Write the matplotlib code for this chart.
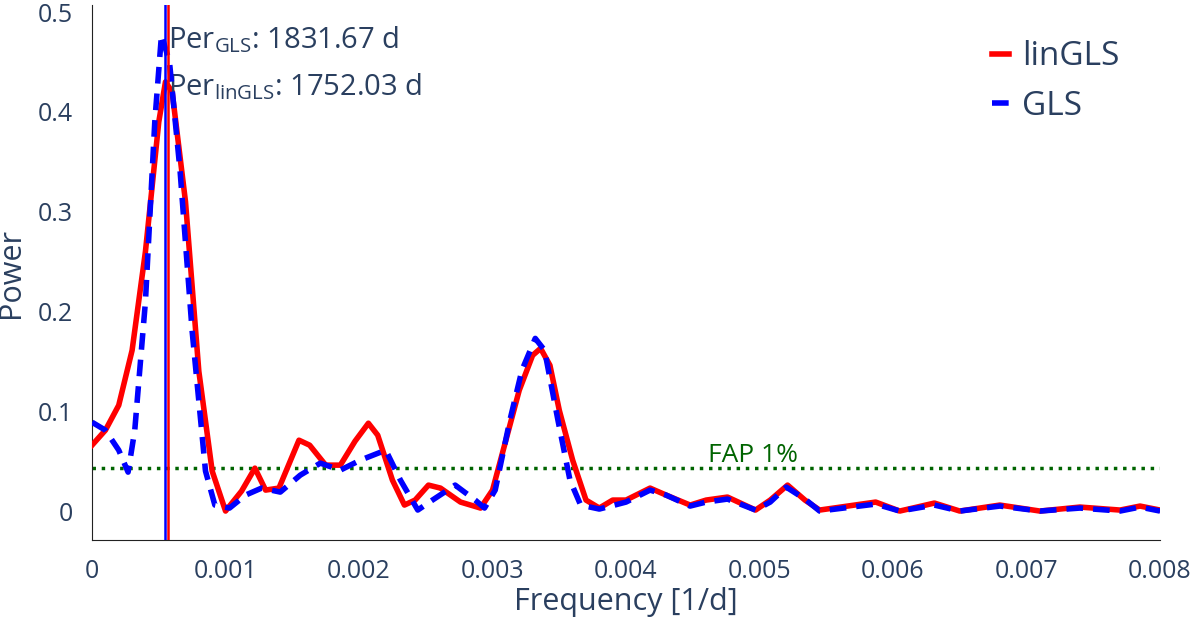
import matplotlib
matplotlib.use("Agg")
import matplotlib.pyplot as plt

plt.rcParams['font.family'] = ['Open Sans', 'DejaVu Sans']
plt.rcParams['mathtext.fontset'] = 'custom'
plt.rcParams['mathtext.rm'] = 'Open Sans'

lin_freq = [0, 0.0001, 0.0002, 0.0003, 0.0004, 0.0005, 0.00055, 0.0006, 0.0007, 0.0008, 0.0009, 0.001,
            0.00112, 0.00122, 0.0013, 0.0014, 0.00155, 0.00163, 0.00175, 0.00186, 0.00197, 0.00207, 0.00214,
            0.00225, 0.00234, 0.00242, 0.00252, 0.00261, 0.00276, 0.00291, 0.003, 0.0031, 0.0032, 0.0033,
            0.00336, 0.00343, 0.0035, 0.0036, 0.0037, 0.0038, 0.0039, 0.004, 0.00418, 0.0043, 0.00448,
            0.0046, 0.00476, 0.00497, 0.00508, 0.00521, 0.00534, 0.00545, 0.00587, 0.00605, 0.00631,
            0.0065, 0.0068, 0.0071, 0.0074, 0.0077, 0.00785, 0.008]
lin_power = [0.066, 0.081, 0.106, 0.161, 0.26, 0.39, 0.43, 0.42, 0.31, 0.14, 0.04, 0.0,
             0.02, 0.043, 0.021, 0.023, 0.071, 0.066, 0.046, 0.046, 0.07, 0.088, 0.076,
             0.031, 0.006, 0.011, 0.026, 0.023, 0.009, 0.003, 0.021, 0.071, 0.121, 0.156,
             0.163, 0.146, 0.101, 0.051, 0.011, 0.003, 0.011, 0.011, 0.023, 0.016, 0.006,
             0.011, 0.014, 0.001, 0.011, 0.026, 0.011, 0.001, 0.009, 0.0, 0.008,
             0.0, 0.006, 0.0, 0.004, 0.001, 0.005, 0.001]

gls_freq = [0, 0.0001, 0.0002, 0.00027, 0.00032, 0.0004, 0.00047, 0.00052, 0.00058, 0.00066, 0.00075,
            0.00085, 0.00092, 0.00103, 0.00115, 0.00127, 0.00141, 0.00156, 0.00171, 0.00186, 0.00201,
            0.0022, 0.00231, 0.00244, 0.00255, 0.00272, 0.00287, 0.00294, 0.00302, 0.00313, 0.00322,
            0.00332, 0.00339, 0.00349, 0.00358, 0.00366, 0.0038, 0.004, 0.00418, 0.0043, 0.00448,
            0.0046, 0.00476, 0.00497, 0.00508, 0.0052, 0.00534, 0.00545, 0.00587, 0.00605, 0.00631,
            0.0065, 0.0068, 0.0071, 0.0074, 0.0077, 0.00785, 0.008]
gls_power = [0.089, 0.081, 0.061, 0.039, 0.081, 0.21, 0.39, 0.477, 0.45, 0.34, 0.18,
             0.04, 0.006, 0.003, 0.016, 0.023, 0.019, 0.036, 0.048, 0.041, 0.051,
             0.061, 0.031, 0.001, 0.011, 0.026, 0.011, 0.003, 0.021, 0.091, 0.141,
             0.173, 0.161, 0.091, 0.031, 0.006, 0.002, 0.009, 0.021, 0.016, 0.005,
             0.009, 0.012, 0.001, 0.009, 0.024, 0.012, 0.0, 0.007, 0.0, 0.006,
             0.0, 0.005, 0.0, 0.003, 0.0, 0.004, 0.0]

per_gls = 1831.67
per_lin = 1752.03
fap = 0.043

xticks = [0, 0.001, 0.002, 0.003, 0.004, 0.005, 0.006, 0.007, 0.008]
xticklabels = ["0", "0.001", "0.002", "0.003", "0.004", "0.005", "0.006", "0.007", "0.008"]
yticks = [0, 0.1, 0.2, 0.3, 0.4, 0.5]
yticklabels = ["0", "0.1", "0.2", "0.3", "0.4", "0.5"]

txt = '#2a3f5f'
fig = plt.figure(figsize=(12, 6.29), dpi=100)
ax = fig.add_axes([0.0767, 0.1415, 0.89, 0.8505])
ax.plot(lin_freq, lin_power, color='red', lw=4, label='linGLS', zorder=3)
ax.plot(gls_freq, gls_power, color='blue', lw=4, ls=(0, (3, 1.8)), label='GLS', zorder=4)
ax.axvline(1 / per_gls, color='blue', lw=1.8, zorder=5)
ax.axvline(1 / per_lin, color='red', lw=1.8, zorder=5)
ax.axhline(fap, color='darkgreen', lw=2.5, ls=':', zorder=2)
ax.text(0.00495, fap + 0.0, 'FAP 1%', color='darkgreen', fontsize=19, ha='center', va='bottom')
ax.text(0.00057, 0.472, r'Per$_{\rm GLS}$: 1831.67 d', color=txt, fontsize=21, va='center')
ax.text(0.00057, 0.425, r'Per$_{\rm linGLS}$: 1752.03 d', color=txt, fontsize=21, va='center')

ax.set_xlim(0, 0.008)
ax.set_ylim(-0.029, 0.507)
ax.set_xticks(xticks)
ax.set_xticklabels(xticklabels)
ax.set_yticks(yticks)
ax.set_yticklabels(yticklabels)
ax.tick_params(colors=txt, labelsize=18, length=0, pad=14)
for s in ['top', 'right']:
    ax.spines[s].set_visible(False)
for s in ['left', 'bottom']:
    ax.spines[s].set_color('#222222')
ax.set_xlabel('Frequency [1/d]', color=txt, fontsize=22, labelpad=2)
ax.set_ylabel('Power', color=txt, fontsize=22, labelpad=8)
leg = ax.legend(loc='upper right', fontsize=24, frameon=False, handlelength=0.5,
                handletextpad=0.4, labelcolor=txt, bbox_to_anchor=(0.99, 0.99))
fig.savefig('out.png')
